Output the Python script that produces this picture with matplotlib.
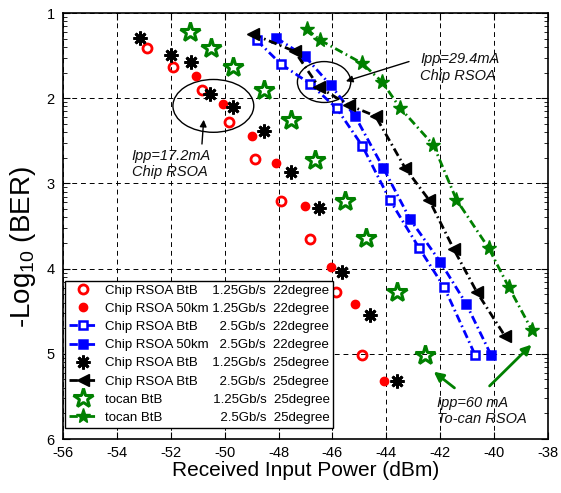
import numpy as np
import matplotlib.pyplot as plt
from matplotlib.patches import Ellipse

plt.rcParams['font.family'] = ['Liberation Sans', 'DejaVu Sans']
plt.rcParams['mathtext.fontset'] = 'custom'
plt.rcParams['mathtext.rm'] = 'Liberation Sans'
plt.rcParams['mathtext.default'] = 'regular'
plt.rcParams['axes.unicode_minus'] = False

# Received power (dBm) and -log10(BER)
p_btb_125_22 = [-52.9, -51.9, -50.85, -49.85, -48.87, -47.9, -46.85, -45.87, -44.9]
b_btb_125_22 = [1.41, 1.63, 1.90, 2.28, 2.71, 3.21, 3.65, 4.27, 5.01]

p_50k_125_22 = [-51.05, -50.05, -49.0, -48.1, -47.0, -46.05, -45.15, -44.1]
b_50k_125_22 = [1.74, 2.07, 2.44, 2.76, 3.27, 3.98, 4.42, 5.32]

p_btb_25_22 = [-48.81, -47.91, -46.83, -45.84, -44.89, -43.86, -42.78, -41.85, -40.71]
b_btb_25_22 = [1.32, 1.60, 1.83, 2.12, 2.56, 3.20, 3.76, 4.22, 5.01]

p_50k_25_22 = [-48.09, -47.02, -46.06, -45.16, -44.11, -43.12, -42.0, -41.04, -40.12]
b_50k_25_22 = [1.29, 1.51, 1.85, 2.21, 2.82, 3.42, 3.92, 4.41, 5.01]

p_btb_125_25 = [-53.15, -52.0, -51.25, -50.55, -49.7, -48.55, -47.55, -46.5, -45.65, -44.6, -43.6]
b_btb_125_25 = [1.29, 1.49, 1.58, 1.95, 2.10, 2.39, 2.87, 3.29, 4.04, 4.54, 5.32]

p_btb_25_25 = [-48.95, -47.4, -46.5, -45.4, -44.4, -43.3, -42.4, -41.5, -40.65, -39.6]
b_btb_25_25 = [1.25, 1.45, 1.87, 2.08, 2.21, 2.82, 3.20, 3.77, 4.27, 4.79]

p_tocan_125 = [-51.3, -50.5, -49.7, -48.55, -47.55, -46.65, -45.55, -44.75, -43.6, -42.55]
b_tocan_125 = [1.22, 1.41, 1.63, 1.90, 2.26, 2.73, 3.21, 3.64, 4.28, 5.01]

p_tocan_25 = [-46.95, -46.45, -44.9, -44.15, -43.5, -42.25, -41.4, -40.2, -39.45, -38.6]
b_tocan_25 = [1.19, 1.32, 1.59, 1.81, 2.11, 2.55, 3.19, 3.76, 4.22, 4.72]

labels = [
    'Chip RSOA BtB    1.25Gb/s  22degree',
    'Chip RSOA 50km 1.25Gb/s  22degree',
    'Chip RSOA BtB      2.5Gb/s  22degree',
    'Chip RSOA 50km   2.5Gb/s  22degree',
    'Chip RSOA BtB    1.25Gb/s  25degree',
    'Chip RSOA BtB      2.5Gb/s  25degree',
    'tocan BtB              1.25Gb/s  25degree',
    'tocan BtB                2.5Gb/s  25degree',
]

green = (0, 0.5, 0)
dashdot = (0, (3, 1.3, 0.6, 1.3))

fig = plt.figure(figsize=(5.61, 4.93), dpi=100)
ax = fig.add_axes([0.1123, 0.1095, 0.8645, 0.8641])

ax.plot(p_btb_125_22, b_btb_125_22, 'o', color='r', mfc='none', mew=2, ms=6.5, ls='none', label=labels[0])
ax.plot(p_50k_125_22, b_50k_125_22, 'o', color='r', ms=6, ls='none', label=labels[1])
ax.plot(p_btb_25_22, b_btb_25_22, 's', color='b', mfc='w', mew=1.8, ms=6, ls=dashdot, lw=2, label=labels[2])
ax.plot(p_50k_25_22, b_50k_25_22, 's', color='b', mew=1.8, ms=6, ls=dashdot, lw=2, label=labels[3])
ax.plot(p_btb_125_25, b_btb_125_25, marker=(8, 2, 0), color='k', mew=2, ms=10, ls='none', label=labels[4])
ax.plot(p_btb_25_25, b_btb_25_25, '<', color='k', ms=8, ls=dashdot, lw=2, label=labels[5])
ax.plot(p_tocan_125, b_tocan_125, '*', color=green, mfc='none', mew=2.2, ms=15, ls='none', label=labels[6])
ax.plot(p_tocan_25, b_tocan_25, '*', color=green, ms=11, ls=dashdot, lw=2, label=labels[7])

ax.set_xlim(-56, -38)
ax.set_ylim(6, 1)
ax.set_xticks(np.arange(-56, -37, 2))
ax.set_yticks([1, 2, 3, 4, 5, 6])
minor = [k + 1 - np.log10(m) for k in range(1, 6) for m in range(2, 10)]
ax.set_yticks(minor, minor=True)
ax.tick_params(which='both', direction='in', top=True, right=True, labelsize=10.5)
ax.tick_params(which='major', length=5, width=0.8)
ax.tick_params(which='minor', length=3, width=0.6)
ax.tick_params(axis='y', pad=6)
ax.tick_params(axis='x', pad=5)
ax.grid(True, color='k', linestyle=(0, (5, 4)), linewidth=0.7)
for s in ax.spines.values():
    s.set_linewidth(1.2)

ax.set_xlabel('Received Input Power (dBm)', fontsize=15, labelpad=1)
ax.set_ylabel('-Log$_{10}$ (BER)', fontsize=20)
ax.yaxis.set_label_coords(-0.052, 0.45)

# annotations
ax.add_patch(Ellipse((-50.42, 2.09), 3.0, 0.62, fill=False, color='k', lw=1))
ax.add_patch(Ellipse((-46.31, 1.81), 1.98, 0.48, fill=False, color='k', lw=1))
ax.annotate('', xy=(-50.77, 2.22), xytext=(-50.85, 2.57),
            arrowprops=dict(arrowstyle='-|>', color='k', lw=1, mutation_scale=10))
ax.annotate('', xy=(-45.6, 1.81), xytext=(-43.06, 1.56),
            arrowprops=dict(arrowstyle='-|>', color='k', lw=1, mutation_scale=10))
ax.text(-53.45, 2.77, 'Ipp=17.2mA\nChip RSOA', fontsize=10.5, style='italic',
        va='center', ha='left', linespacing=1.2, color='#111111')
ax.text(-42.75, 1.64, 'Ipp=29.4mA\nChip RSOA', fontsize=10.5, style='italic',
        va='center', ha='left', linespacing=1.2, color='#111111')
ax.text(-42.13, 5.67, 'Ipp=60 mA\nTo-can RSOA', fontsize=10.5, style='italic',
        va='center', ha='left', linespacing=1.2, color='#111111')
ax.annotate('', xy=(-42.32, 5.19), xytext=(-41.39, 5.42),
            arrowprops=dict(arrowstyle='-|>', color=green, lw=2, mutation_scale=14))
ax.annotate('', xy=(-38.54, 4.87), xytext=(-40.24, 5.40),
            arrowprops=dict(arrowstyle='-|>', color=green, lw=2, mutation_scale=14))

leg = ax.legend(loc='lower left', bbox_to_anchor=(0.004, 0.026), borderaxespad=0,
                fontsize=9.5, numpoints=1, handlelength=2.2, handletextpad=0.5,
                labelspacing=0.45, borderpad=0.3, fancybox=False, framealpha=1,
                edgecolor='k')
leg.get_frame().set_linewidth(1)

fig.savefig('out.png', dpi=100)
